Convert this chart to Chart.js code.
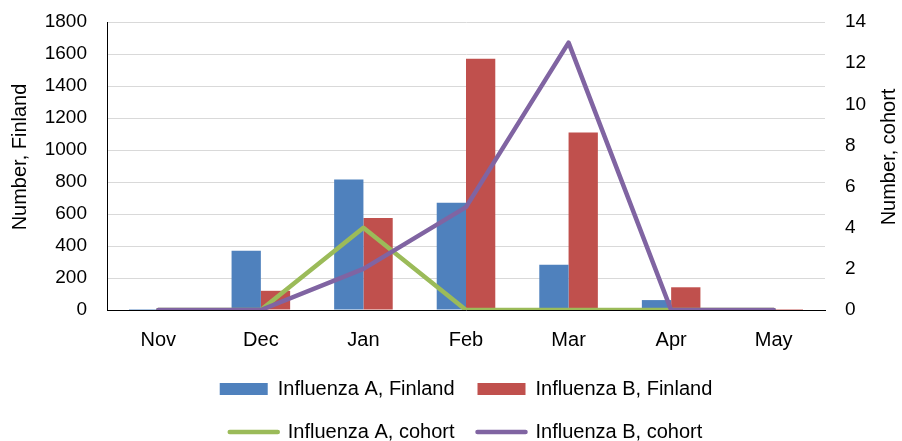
<!DOCTYPE html>
<html>
<head>
<meta charset="utf-8">
<script src="https://cdn.jsdelivr.net/npm/chart.js@4/dist/chart.umd.min.js"></script>
<style>
html,body{margin:0;padding:0;background:#fff;}
#wrap{width:902px;height:441px;position:relative;}
</style>
</head>
<body>
<div id="wrap"><canvas id="c" width="902" height="441"></canvas></div>
<script>
// ---- data ----
const months = ['Nov', 'Dec', 'Jan', 'Feb', 'Mar', 'Apr', 'May'];
const influenzaAFinland = [6, 370, 815, 670, 283, 62, 0];
const influenzaBFinland = [0, 120, 575, 1570, 1110, 142, 6];
const influenzaACohort = [0, 0, 4, 0, 0, 0, 0];
const influenzaBCohort = [0, 0, 2, 5, 13, 0, 0];
const seriesNames = ['Influenza A, Finland', 'Influenza B, Finland', 'Influenza A, cohort', 'Influenza B, cohort'];
const leftAxisTitle = 'Number, Finland';
const rightAxisTitle = 'Number, cohort';
const leftAxisMax = 1800, leftAxisStep = 200;
const rightAxisMax = 14, rightAxisStep = 2;

// ---- styles ----
const FONT = '"Liberation Sans", Arial, sans-serif';
const COLORS = ['#4F81BD', '#C0504D', '#9BBB59', '#8064A2'];
const LINE_W = 4.5;

const axisTitles = {
  id: 'axisTitles',
  afterDraw(chart) {
    const ctx = chart.ctx;
    ctx.save();
    ctx.font = '20px ' + FONT;
    ctx.fillStyle = '#000';
    ctx.textAlign = 'center';
    ctx.textBaseline = 'middle';
    [[leftAxisTitle, 20], [rightAxisTitle, 889]].forEach(([t, x]) => {
      ctx.save();
      ctx.translate(x, 157);
      ctx.rotate(-Math.PI / 2);
      ctx.fillText(t, 0, 0);
      ctx.restore();
    });
    ctx.restore();
  }
};

new Chart(document.getElementById('c'), {
  type: 'bar',
  data: {
    labels: months,
    datasets: [
      { type: 'bar', label: seriesNames[0], data: influenzaAFinland, backgroundColor: COLORS[0], yAxisID: 'y', order: 2, barPercentage: 1, categoryPercentage: 0.571 },
      { type: 'bar', label: seriesNames[1], data: influenzaBFinland, backgroundColor: COLORS[1], yAxisID: 'y', order: 2, barPercentage: 1, categoryPercentage: 0.571 },
      { type: 'line', label: seriesNames[2], data: influenzaACohort, borderColor: COLORS[2], backgroundColor: COLORS[2], borderWidth: LINE_W, pointRadius: 0, tension: 0, borderCapStyle: 'round', borderJoinStyle: 'round', yAxisID: 'y1', order: 1 },
      { type: 'line', label: seriesNames[3], data: influenzaBCohort, borderColor: COLORS[3], backgroundColor: COLORS[3], borderWidth: LINE_W, pointRadius: 0, tension: 0, borderCapStyle: 'round', borderJoinStyle: 'round', yAxisID: 'y1', order: 0 }
    ]
  },
  options: {
    responsive: false,
    animation: false,
    layout: { padding: { top: 22, bottom: -11, left: 0, right: 0 } },
    plugins: {
      tooltip: { enabled: false },
      legend: {
        position: 'bottom',
        fullSize: false,
        labels: {
          usePointStyle: true,
          pointStyleWidth: 48,
          boxHeight: 12,
          padding: 23,
          color: '#000',
          font: { size: 20, family: FONT },
          sort: (a, b) => a.datasetIndex - b.datasetIndex,
          generateLabels(chart) {
            const items = Chart.defaults.plugins.legend.labels.generateLabels(chart);
            items.forEach(it => {
              const ds = chart.data.datasets[it.datasetIndex];
              if (ds.type === 'line') {
                it.pointStyle = 'line';
                it.strokeStyle = ds.borderColor;
                it.fillStyle = ds.borderColor;
                it.lineWidth = LINE_W;
                it.lineCap = 'round';
              } else {
                it.pointStyle = 'rect';
                it.fillStyle = ds.backgroundColor;
                it.strokeStyle = ds.backgroundColor;
                it.lineWidth = 0;
              }
              it.rotation = 0;
            });
            return items;
          }
        }
      }
    },
    scales: {
      x: {
        grid: { display: false, drawTicks: false },
        border: { display: true, color: '#000', width: 1 },
        ticks: { color: '#000', font: { size: 20, family: FONT }, padding: 18 },
        afterFit(s) { s.height = 46; }
      },
      y: {
        position: 'left',
        min: 0, max: leftAxisMax,
        grid: { color: '#D9D9D9', lineWidth: 1, drawTicks: false },
        border: { display: true, color: '#000', width: 1 },
        ticks: { stepSize: leftAxisStep, color: '#000', font: { size: 19, family: FONT }, padding: 20, callback: v => String(v) },
        afterFit(s) { s.width = 107; s.paddingTop = 0; s.paddingBottom = 0; }
      },
      y1: {
        position: 'right',
        min: 0, max: rightAxisMax,
        grid: { display: false, drawTicks: false },
        border: { display: false },
        ticks: { stepSize: rightAxisStep, color: '#000', font: { size: 19, family: FONT }, padding: 20, callback: v => String(v) },
        afterFit(s) { s.width = 77; s.paddingTop = 0; s.paddingBottom = 0; }
      }
    }
  },
  plugins: [axisTitles]
});
</script>
</body>
</html>
